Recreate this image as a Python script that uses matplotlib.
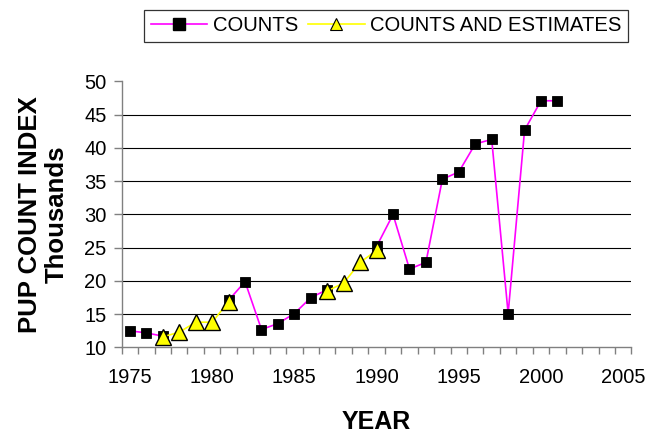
#!/usr/bin/env python3
"""
Pup count index chart: counts vs counts-and-estimates by year.
"""
import matplotlib
matplotlib.use("Agg")
import matplotlib.pyplot as plt
from matplotlib.lines import Line2D
import matplotlib.ticker as ticker
import numpy as np

nan = np.nan

# Counts (thousands), one value per year, NaN where no count was made
count_years = list(range(1975, 2002))
counts = [12.5, 12.2, 11.7, nan, nan, nan, 17.1, 19.9, 12.7, 13.6,
          15.1, 17.5, 18.7, nan, nan, 25.2, 30.0, 21.8, 22.8, 35.3,
          36.4, 40.6, 41.3, 15.1, 42.7, 47.1, 47.1]

# Counts and estimates (thousands)
est_years = [1977, 1978, 1979, 1980, 1981, nan, 1987, 1988, 1989, 1990]
estimates = [11.6, 12.3, 13.8, 13.8, 16.9, nan, 18.5, 19.7, 22.8, 24.6]

x_labels = [1975, 1980, 1985, 1990, 1995, 2000, 2005]
y_ticks = [10, 15, 20, 25, 30, 35, 40, 45, 50]

COUNT_COLOR = "#ff00ff"
EST_COLOR = "#ffff00"
AXIS_GRAY = "#808080"


def main():
    plt.rcParams["font.family"] = ["Liberation Sans", "DejaVu Sans"]

    fig = plt.figure(figsize=(6.46, 4.33), dpi=100)
    ax = fig.add_axes([0.1884, 0.1975, 0.7891, 0.6143])

    ax.plot(count_years, counts, color=COUNT_COLOR, linewidth=1.2,
            marker="s", markersize=7.6, markerfacecolor="black",
            markeredgecolor="black", markeredgewidth=0.6, zorder=3)
    ax.plot(est_years, estimates, color=EST_COLOR, linewidth=1.2,
            marker="^", markersize=12.2, markerfacecolor=EST_COLOR,
            markeredgecolor="black", markeredgewidth=1.0, zorder=4)

    # Category-style x axis: labels on the years, tick marks between them
    ax.set_xlim(1974.5, 2005.5)
    ax.set_ylim(10, 50)
    ax.set_xticks(x_labels)
    ax.xaxis.set_minor_locator(ticker.FixedLocator(np.arange(1974.5, 2006, 1.0)))
    ax.tick_params(axis="x", which="major", length=0, pad=15, labelsize=14.5)
    ax.tick_params(axis="x", which="minor", length=5, width=1,
                   color=AXIS_GRAY, direction="out")
    ax.set_yticks(y_ticks)
    ax.tick_params(axis="y", length=6, width=1, color=AXIS_GRAY,
                   pad=5, labelsize=14.5)

    ax.grid(axis="y", color="black", linewidth=0.8)
    gl = ax.get_ygridlines()
    gl[0].set_visible(False)
    gl[-1].set_visible(False)
    ax.set_axisbelow(True)

    for side in ["top", "right"]:
        ax.spines[side].set_visible(False)
    for side in ["left", "bottom"]:
        ax.spines[side].set_color(AXIS_GRAY)
        ax.spines[side].set_linewidth(1.0)

    ax.set_xlabel("YEAR", fontsize=18, fontweight="bold")
    ax.xaxis.set_label_coords(0.5, -0.235)
    ax.set_ylabel("PUP COUNT INDEX\nThousands", fontsize=18.5,
                  fontweight="bold", linespacing=1.15)
    ax.yaxis.set_label_coords(-0.103, 0.5)

    handles = [
        Line2D([], [], color=COUNT_COLOR, linewidth=1.2, marker="s",
               markersize=8, markerfacecolor="black", markeredgecolor="black"),
        Line2D([], [], color=EST_COLOR, linewidth=1.2, marker="^",
               markersize=9, markerfacecolor=EST_COLOR,
               markeredgecolor="black", markeredgewidth=0.8),
    ]
    leg = fig.legend(handles, ["COUNTS", "COUNTS AND ESTIMATES"],
                     loc="upper right", bbox_to_anchor=(628 / 646, 1 - 10 / 433),
                     bbox_transform=fig.transFigure, ncol=2, fontsize=14.6,
                     frameon=True, fancybox=False, borderaxespad=0,
                     borderpad=0.32, handlelength=2.8, handletextpad=0.26,
                     columnspacing=0.5)
    frame = leg.get_frame()
    frame.set_edgecolor("black")
    frame.set_linewidth(0.9)

    fig.savefig("out.png", dpi=100)
    plt.close(fig)


if __name__ == "__main__":
    main()
